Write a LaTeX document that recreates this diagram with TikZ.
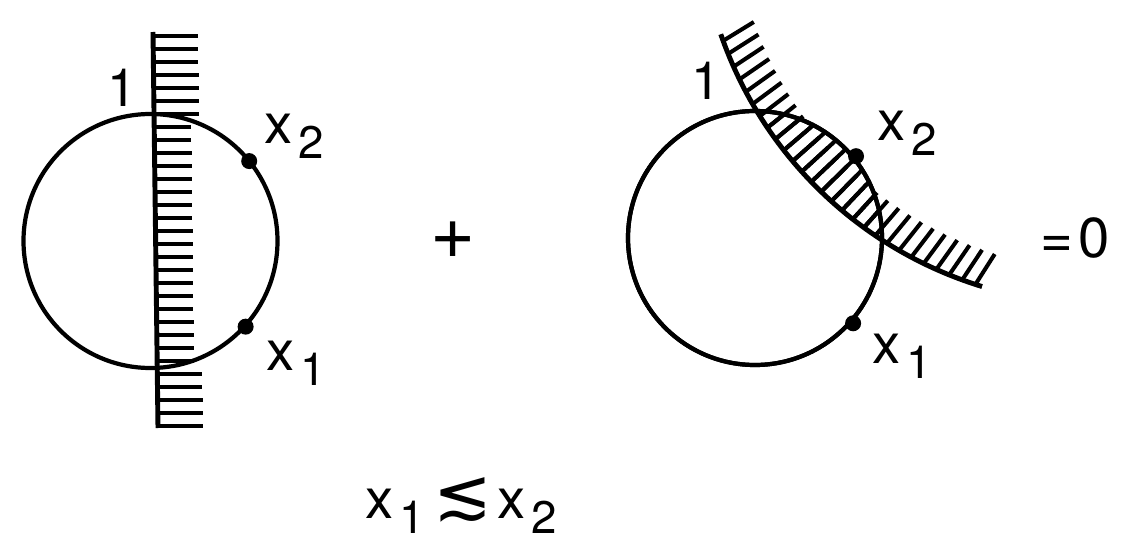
\documentclass[tikz,border=0pt]{standalone}
\usepackage{fontspec}
\setmainfont{TeX Gyre Heros}
\newfontfamily\symfont{DejaVu Sans}
\usetikzlibrary{calc}

% x with a lowered index, as in the figure
\newcommand{\xs}[1]{x\kern0.1em\raisebox{-9pt}{\fontsize{26}{28}\selectfont #1}}

\begin{document}
\begin{tikzpicture}[x=0.02cm,y=-0.02cm,
  loopline/.style={line width=2.4pt},
  wall/.style={line width=2.8pt},
  hatch/.style={line width=2.3pt},
  lbl/.style={inner sep=0pt,font=\fontsize{32}{36}\selectfont},
  numlbl/.style={inner sep=0pt,font=\fontsize{30}{32}\selectfont}
]
\useasboundingbox (0,0) rectangle (1129,544);

% Left diagram
\coordinate (cl) at (150.5,241);
\coordinate (wt) at (153,32);
\coordinate (wb) at (158,428);
\draw[loopline] (cl) circle[radius=127];
\draw[wall] (wt) -- (wb);
\foreach \y in {36,49,...,426} {
  \pgfmathsetmacro\tl{(\y>118 && \y<364) ? 37 : 45}
  \draw[hatch] ($(wt)!{(\y-32)/396}!(wb)$) -- ++(\tl,0);
}
\fill (cl) ++(-39:127) coordinate (lx2) circle[radius=8];
\fill (cl) ++(42:128) coordinate (lx1) circle[radius=8];
\node[numlbl,anchor=base] (lone) at (122,107) {1};
\node[lbl,anchor=base west] (ltwo) at (264,143) {\xs{2}};
\node[lbl,anchor=base west] (lthree) at (266,370) {\xs{1}};

% Plus
\node[lbl,font=\fontsize{44}{46}\selectfont] (plus) at (453,240) {+};

% Right diagram
\coordinate (cr) at (755,238);
\coordinate (cc) at (1099,-96);
\draw[loopline] (cr) circle[radius=127];
\draw[wall] (cc) ++(161:400) arc[start angle=161,end angle=107,radius=400];
\foreach \a in {160,158,...,108}
  \draw[hatch] (cc) ++(\a:400) -- ++({\a/2+248.5}:36);
\begin{scope}
  \clip (cr) circle[radius=127];
  \foreach \a in {150,148,...,122}
    \draw[hatch] (cc) ++(\a:400) -- ++({\a/2+248.5}:80);
\end{scope}
\draw[loopline] (cr) circle[radius=127];
\fill (cr) ++(-39:130) coordinate (rx2) circle[radius=8];
\fill (cr) ++(41:130) coordinate (rx1) circle[radius=8];
\node[numlbl,anchor=base] (rone) at (706,100) {1};
\node[lbl,anchor=base west] (rtwo) at (877,140) {\xs{2}};
\node[lbl,anchor=base west] (rthree) at (872,363) {\xs{1}};

% Result
\node[lbl,anchor=base west] (zero) at (1040,257) {=\kern0.1em 0};

% Condition
\node[lbl,anchor=base west] (cond) at (365,518) {\xs{1}\hspace{5pt}{\symfont\fontsize{40}{40}\selectfont ≲}\hspace{3pt}\xs{2}};
\end{tikzpicture}
\end{document}
